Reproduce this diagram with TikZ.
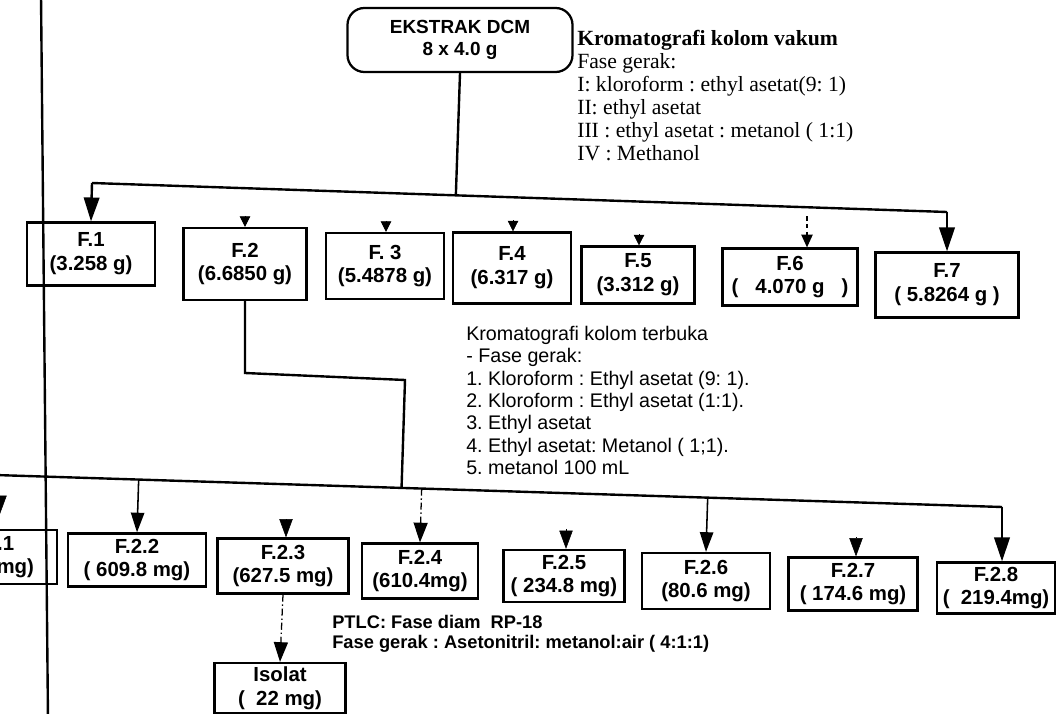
\documentclass[tikz,border=0pt]{standalone}
\usepackage{fontspec}
\setmainfont{Liberation Serif}
\setsansfont{Liberation Sans}
\usetikzlibrary{arrows.meta,calc}
\begin{document}
\frenchspacing
\begin{tikzpicture}[x=0.025cm,y=-0.025cm,
  fr/.style 2 args={draw, line width=1.6pt, inner sep=0pt,
    minimum width=#1*0.025cm, minimum height=#2*0.025cm, align=center,
    font=\sffamily\bfseries\fontsize{14.5}{17}\selectfont},
  bus/.style={line width=1.7pt},
  big/.style={line width=1.7pt, -{Triangle[length=17pt,width=11pt]}},
  mid/.style={line width=1.1pt, -{Triangle[length=14pt,width=9.5pt]}},
  dsh/.style={line width=0.9pt, dash pattern=on 3pt off 2.5pt, -{Triangle[length=9pt,width=8pt]}},
  dshb/.style={line width=0.9pt, dash pattern=on 5pt off 2pt on 1pt off 2pt, -{Triangle[length=14pt,width=10pt]}},
  tipm/.style={-{Triangle[length=13pt,width=9.5pt]}},
  tips/.style={-{Triangle[length=7.5pt,width=7.5pt]}},
  txt/.style={anchor=north west, align=left, inner sep=0pt}
]
\path[use as bounding box, fill=white] (0,0) rectangle (1058,714);
\clip (0,0) rectangle (1058,714);

% top node
\node[draw, rounded corners=12pt, line width=1.6pt, inner sep=0pt,
  minimum width=225*0.025cm, minimum height=64*0.025cm, align=center,
  font=\sffamily\bfseries\fontsize{13.5}{15.5}\selectfont] (E) at (460,40) {EKSTRAK DCM\\8 x 4.0 g};

\node[txt, font=\rmfamily\fontsize{15.4}{16.4}\selectfont] (tv) at (577,30)
  {\textbf{Kromatografi kolom vakum}\\Fase gerak:\\I: kloroform : ethyl asetat(9: 1)\\II: ethyl asetat\\III : ethyl asetat : metanol ( 1:1)\\IV : Methanol};

% first fractions
\node[fr={128}{63}] (F1) at (91,254) {F.1\\(3.258 g)};
\node[fr={123}{72}] (F2) at (245,264) {F.2\\(6.6850 g)};
\node[fr={118}{66}] (F3) at (385,266) {F. 3\\(5.4878 g)};
\node[fr={118}{71}] (F4) at (512,268) {F.4\\(6.317 g)};
\node[fr={113}{57}] (F5) at (638,275) {F.5\\(3.312 g)};
\node[fr={135}{57}] (F6) at (790,277) {F.6\\(~~~4.070 g~~~)};
\node[fr={143}{65}] (F7) at (947,285) {F.7\\( 5.8264 g )};

\node[txt, font=\sffamily\fontsize{14}{15.9}\selectfont] (tk) at (466,326)
  {Kromatografi kolom terbuka\\- Fase gerak:\\1. Kloroform : Ethyl asetat (9: 1).\\2. Kloroform : Ethyl asetat (1:1).\\3. Ethyl asetat\\4. Ethyl asetat: Metanol ( 1;1).\\5. metanol 100 mL};

% second fractions
\node[fr={130}{54}] (F21) at (-8,557) {F.2.1\\(290 mg)};
\node[fr={138}{53}] (F22) at (137,560) {F.2.2\\( 609.8 mg)};
\node[fr={131}{55}] (F23) at (283,566) {F.2.3\\(627.5 mg)};
\node[fr={116}{55}] (F24) at (420,571) {F.2.4\\(610.4mg)};
\node[fr={121}{52}] (F25) at (564,576) {F.2.5\\( 234.8 mg)};
\node[fr={128}{56}] (F26) at (706,581) {F.2.6\\(80.6 mg)};
\node[fr={129}{53}] (F27) at (853,584) {F.2.7\\( 174.6 mg)};
\node[fr={118}{51}] (F28) at (996,588) {F.2.8\\(~~219.4mg)};
\node[fr={131}{50}] (Iso) at (280,688) {Isolat\\(~~22 mg)};

\node[txt, font=\sffamily\bfseries\fontsize{13}{14.2}\selectfont] (pt) at (332,615)
  {PTLC: Fase diam~~RP-18\\Fase gerak : Asetonitril: metanol:air ( 4:1:1)};

% left vertical line
\coordinate (v1) at (41,-5);
\coordinate (v2) at (48,720);
\draw[line width=1.7pt] (v1) -- (v2);

% upper bus
\coordinate (b1) at (92,183);
\coordinate (b7) at (947,212);
\draw[bus] (E.south) -- ($(b1)!(E.south)!(b7)$);
\draw[bus] (b1) -- (b7);
\draw[big] (b1) -- (F1.north);
\draw[big] (b7) -- (F7.north);
\draw[tips] ($(F2.north)+(0,-11)$) -- (F2.north);
\draw[tips] ($(F3.north)+(1,-11)$) -- ($(F3.north)+(1,0)$);
\draw[tips] ($(F4.north)+(1,-11)$) -- ($(F4.north)+(1,0)$);
\draw[tips] ($(F5.north)+(1,-11)$) -- ($(F5.north)+(1,0)$);
\draw[dsh] ($(F6.north)+(17,-31)$) -- ($(F6.north)+(17,0)$);

% lower bus
\coordinate (L) at (-5,475);
\coordinate (R) at (1002,507);
\coordinate (k1) at (245,373);
\coordinate (k2) at (405,380);
\draw[bus] (F2.south) -- (k1) -- (k2) -- ($(L)!(k2)!(R)$);
\draw[bus] (L) -- (R);
\draw[mid] ($(L)!(F22.north)!(R)$) -- (F22.north);
\draw[mid] ($(L)!(F26.north)!(R)$) -- (F26.north);
\draw[dshb] ($(L)!(F24.north)!(R)$) -- (F24.north);
\draw[big] (R) -- ($(F28.north)+(6,0)$);
\draw[tipm] ($(F21.north)+(8,-33)$) -- ($(F21.north)+(8,-15)$);
\draw[tipm] ($(F23.north)+(3,-18)$) -- ($(F23.north)+(3,0)$);
\draw[tipm] ($(F25.north)+(2,-20)$) -- ($(F25.north)+(2,0)$);
\draw[tipm] ($(F27.north)+(3,-19)$) -- ($(F27.north)+(3,0)$);
\draw[dshb] (F23.south) -- (Iso.north);
\end{tikzpicture}
\end{document}
